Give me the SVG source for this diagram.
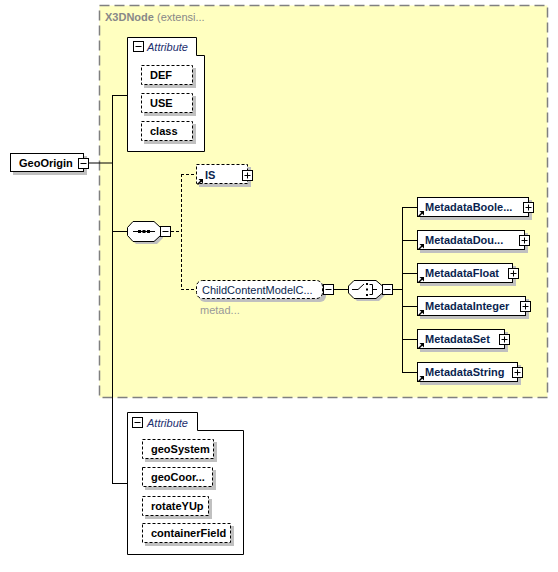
<svg xmlns="http://www.w3.org/2000/svg" width="558" height="572" viewBox="0 0 558 572">
<defs>
<style>
text{font-family:"Liberation Sans",Arial,sans-serif;font-size:11px}
.b{font-weight:bold;fill:#000}
.r{font-weight:bold;fill:#0a1f4f}
.box{fill:#fff;stroke:#000;stroke-width:1}
.dbox{fill:#fff;stroke:#000;stroke-width:1;stroke-dasharray:3,2}
.sh{fill:#c0c0c0}
.ln{stroke:#000;stroke-width:1;fill:none}
.dl{stroke:#000;stroke-width:1;fill:none;stroke-dasharray:3,2}
.ic{fill:#fff;stroke:#000;stroke-width:1}
.hdr{font-style:italic;fill:#1c2e6e}
.gray{fill:#999}
</style>
<g id="plus"><rect class="ic" x="0" y="0" width="10" height="10"/><path class="ln" d="M2,5H8M5,2V8"/></g>
<g id="minus"><rect class="ic" x="0" y="0" width="10" height="10"/><path class="ln" d="M2,5H8"/></g>
<g id="arr"><path d="M0.5,6.5L4,3" stroke="#000" stroke-width="1.5"/><path d="M1.5,1L6,1L6,5.5Z" fill="#000"/></g>
</defs>

<g id="extension">
<rect x="99.5" y="5.5" width="448" height="392" fill="#ffffc0" stroke="#808080" stroke-width="1.5" stroke-dasharray="10,5"/>
<text x="105" y="21" fill="#888"><tspan font-weight="bold">X3DNode</tspan> (extensi...</text>
</g>

<g id="connectors">
<path class="ln" d="M88,163H112M112.5,95V483.5M112,95.5H127M112,231.5H127M112,483.5H127"/>
<path class="dl" d="M171,231.5H181.5M181.5,174V289M181,174.5H196M181,289.5H196"/>
<path class="ln" d="M333,289.5H348M392,289.5H402.5M402.5,207V372M402,207.5H417M402,240.5H417M402,273.5H417M402,306.5H417M402,339.5H417M402,372.5H417"/>
</g>

<g id="GeoOrigin">
<rect class="sh" x="13" y="156" width="74" height="19"/>
<rect class="box" x="10.5" y="153.5" width="73" height="18"/>
<text class="b" x="19" y="167">GeoOrigin</text>
<use href="#minus" x="78.5" y="158.5"/>
</g>

<g id="attrGroup1">
<path class="box" d="M127.5,37.5H196.5V55.5H204.5V151.5H127.5Z"/>
<use href="#minus" x="133.5" y="41.5"/>
<text class="hdr" x="147" y="51">Attribute</text>
</g>
<g id="DEF">
<rect class="sh" x="144" y="68" width="52" height="20"/>
<rect class="dbox" x="141.5" y="65.5" width="51" height="19"/>
<text class="b" x="150" y="79">DEF</text>
</g>
<g id="USE">
<rect class="sh" x="144" y="96" width="52" height="20"/>
<rect class="dbox" x="141.5" y="93.5" width="51" height="19"/>
<text class="b" x="150" y="107">USE</text>
</g>
<g id="class">
<rect class="sh" x="144" y="124" width="52" height="20"/>
<rect class="dbox" x="141.5" y="121.5" width="51" height="19"/>
<text class="b" x="150" y="135">class</text>
</g>

<g id="sequence">
<polygon class="sh" points="136,224 157,224 163,230 163,238 157,244 136,244 130,238 130,230"/>
<polygon class="box" points="133,221.5 154,221.5 160.5,227.5 160.5,235.5 154,241.5 133,241.5 127.5,235.5 127.5,227.5"/>
<path class="ln" d="M133,231.5H155"/>
<rect x="138" y="230" width="3" height="3" fill="#000"/><rect x="142.5" y="230" width="3" height="3" fill="#000"/><rect x="147" y="230" width="3" height="3" fill="#000"/>
<use href="#minus" x="160.5" y="226.5"/>
</g>

<g id="IS">
<rect class="sh" x="199" y="167" width="52" height="20"/>
<rect class="dbox" x="196.5" y="164.5" width="51" height="19"/>
<use href="#arr" x="197" y="178"/>
<text class="r" x="205" y="179">IS</text>
<use href="#plus" x="242.5" y="170.5"/>
</g>

<g id="ChildContentModelIC">
<rect class="sh" x="199" y="283" width="127" height="19" rx="6"/>
<rect class="dbox" x="196.5" y="280.5" width="126" height="18" rx="6"/>
<text x="202" y="294" fill="#0a1f4f" font-size="11.8">ChildContentModelC...</text>
<use href="#minus" x="323.5" y="284.5"/>
<text class="gray" x="200" y="314" font-size="10">metad...</text>
</g>

<g id="choice">
<polygon class="sh" points="357,283 379,283 385,289 385,295 379,301 357,301 351,295 351,289"/>
<polygon class="box" points="354,280.5 376,280.5 382.5,286 382.5,293 376,298.5 354,298.5 348.5,293 348.5,286"/>
<path class="ln" d="M352,289.5H358L364,284"/>
<rect x="366" y="283" width="2" height="2" fill="#000"/><rect x="366" y="288.5" width="2" height="2" fill="#000"/><rect x="366" y="294" width="2" height="2" fill="#000"/>
<path class="ln" d="M369.5,284.5H372.5V294.5H369.5M372.5,289.5H377"/>
<use href="#minus" x="382.5" y="284.5"/>
</g>

<g id="MetadataBoolean">
<rect class="sh" x="420" y="200" width="112" height="20"/>
<rect class="box" x="417.5" y="197.5" width="111" height="19"/>
<use href="#arr" x="418" y="210"/>
<text class="r" x="425" y="211">MetadataBoole...</text>
<use href="#plus" x="523.5" y="202.5"/>
</g>
<g id="MetadataDouble">
<rect class="sh" x="420" y="233" width="108" height="20"/>
<rect class="box" x="417.5" y="230.5" width="107" height="19"/>
<use href="#arr" x="418" y="243"/>
<text class="r" x="425" y="244">MetadataDou...</text>
<use href="#plus" x="519.5" y="235.5"/>
</g>
<g id="MetadataFloat">
<rect class="sh" x="420" y="266" width="96" height="20"/>
<rect class="box" x="417.5" y="263.5" width="95" height="19"/>
<use href="#arr" x="418" y="276"/>
<text class="r" x="425" y="277">MetadataFloat</text>
<use href="#plus" x="508.5" y="268.5"/>
</g>
<g id="MetadataInteger">
<rect class="sh" x="420" y="299" width="109" height="20"/>
<rect class="box" x="417.5" y="296.5" width="108" height="19"/>
<use href="#arr" x="418" y="309"/>
<text class="r" x="425" y="310">MetadataInteger</text>
<use href="#plus" x="520.5" y="301.5"/>
</g>
<g id="MetadataSet">
<rect class="sh" x="420" y="332" width="88" height="20"/>
<rect class="box" x="417.5" y="329.5" width="87" height="19"/>
<use href="#arr" x="418" y="342"/>
<text class="r" x="425" y="343">MetadataSet</text>
<use href="#plus" x="499.5" y="334.5"/>
</g>
<g id="MetadataString">
<rect class="sh" x="420" y="365" width="101" height="20"/>
<rect class="box" x="417.5" y="362.5" width="100" height="19"/>
<use href="#arr" x="418" y="375"/>
<text class="r" x="425" y="376">MetadataString</text>
<use href="#plus" x="512.5" y="367.5"/>
</g>

<g id="attrGroup2">
<path class="box" d="M127.5,412.5H197.5V430.5H243.5V554.5H127.5Z"/>
<use href="#minus" x="132.5" y="417.5"/>
<text class="hdr" x="147" y="427">Attribute</text>
</g>
<g id="geoSystem">
<rect class="sh" x="145" y="442" width="72" height="20"/>
<rect class="dbox" x="142.5" y="439.5" width="71" height="19"/>
<text class="b" x="151" y="453">geoSystem</text>
</g>
<g id="geoCoords">
<rect class="sh" x="145" y="470" width="71" height="20"/>
<rect class="dbox" x="142.5" y="467.5" width="70" height="19"/>
<text class="b" x="151" y="481">geoCoor...</text>
</g>
<g id="rotateYUp">
<rect class="sh" x="145" y="499" width="67" height="20"/>
<rect class="dbox" x="142.5" y="496.5" width="66" height="19"/>
<text class="b" x="151" y="510">rotateYUp</text>
</g>
<g id="containerField">
<rect class="sh" x="145" y="526" width="89" height="20"/>
<rect class="dbox" x="142.5" y="523.5" width="88" height="19"/>
<text class="b" x="151" y="537">containerField</text>
</g>
</svg>
